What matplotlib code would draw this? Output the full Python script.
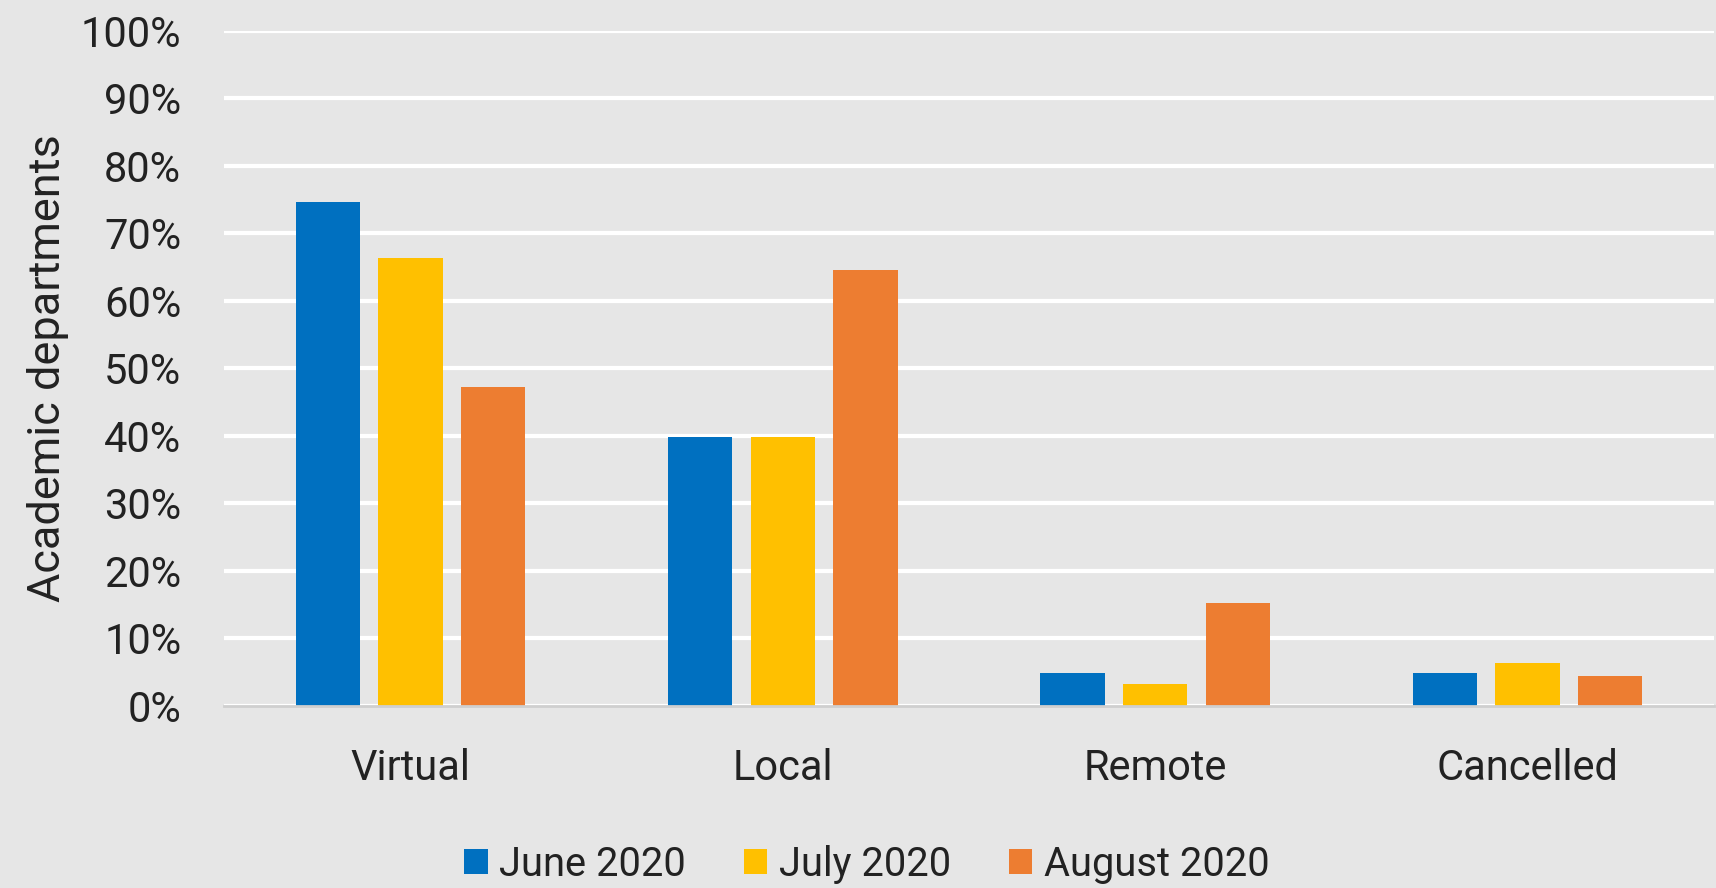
import matplotlib
matplotlib.use("Agg")
import matplotlib.pyplot as plt
import numpy as np

categories = ["Virtual", "Local", "Remote", "Cancelled"]
series_names = ["June 2020", "July 2020", "August 2020"]
june = [74.6, 39.8, 4.9, 4.9]
july = [66.4, 39.8, 3.2, 6.3]
august = [47.3, 64.6, 15.3, 4.5]
colors = ["#0070C0", "#FFC000", "#ED7D31"]
yticks = [0, 10, 20, 30, 40, 50, 60, 70, 80, 90, 100]

plt.rcParams['font.family'] = ['Roboto', 'DejaVu Sans']

bg = "#e6e6e6"
fig = plt.figure(figsize=(17.16, 8.88), dpi=100, facecolor=bg)
ax = fig.add_axes([0.1307, 0.205, 0.868, 0.7605], facecolor=bg)

x = np.arange(len(categories))
w = 0.173
step = 0.222
for i, (vals, name, c) in enumerate(zip([june, july, august], series_names, colors)):
    ax.bar(x + (i - 1) * step, vals, width=w, color=c, label=name, zorder=3)

ax.set_xlim(-0.5, len(categories) - 0.5)
ax.set_ylim(0, 100)
ax.set_yticks(yticks)
ax.set_yticklabels([f"{t}%" for t in yticks], fontsize=30, color="#222222")
ax.set_xticks(x)
ax.set_xticklabels(categories, fontsize=30, color="#222222")
ax.tick_params(axis='y', length=0, pad=31)
ax.tick_params(axis='x', length=0, pad=30)
ax.grid(axis='y', color='white', linewidth=3, zorder=0)
ax.set_axisbelow(True)
for s in ['top', 'right', 'left']:
    ax.spines[s].set_visible(False)
ax.spines['bottom'].set_color('#cfcfcf')
ax.spines['bottom'].set_linewidth(2)
ax.spines['bottom'].set_zorder(4)

ax.set_ylabel("Academic departments", fontsize=32.5, color="#222222")
ax.yaxis.set_label_coords(-0.104, 0.5)

fig.legend(loc='center', bbox_to_anchor=(0.505, 0.027), ncol=3, frameon=False,
           fontsize=28.7, handlelength=0.6, handleheight=0.6, handletextpad=0.28,
           columnspacing=1.45, labelcolor="#222222")

fig.savefig("out.png", dpi=100, facecolor=bg)
